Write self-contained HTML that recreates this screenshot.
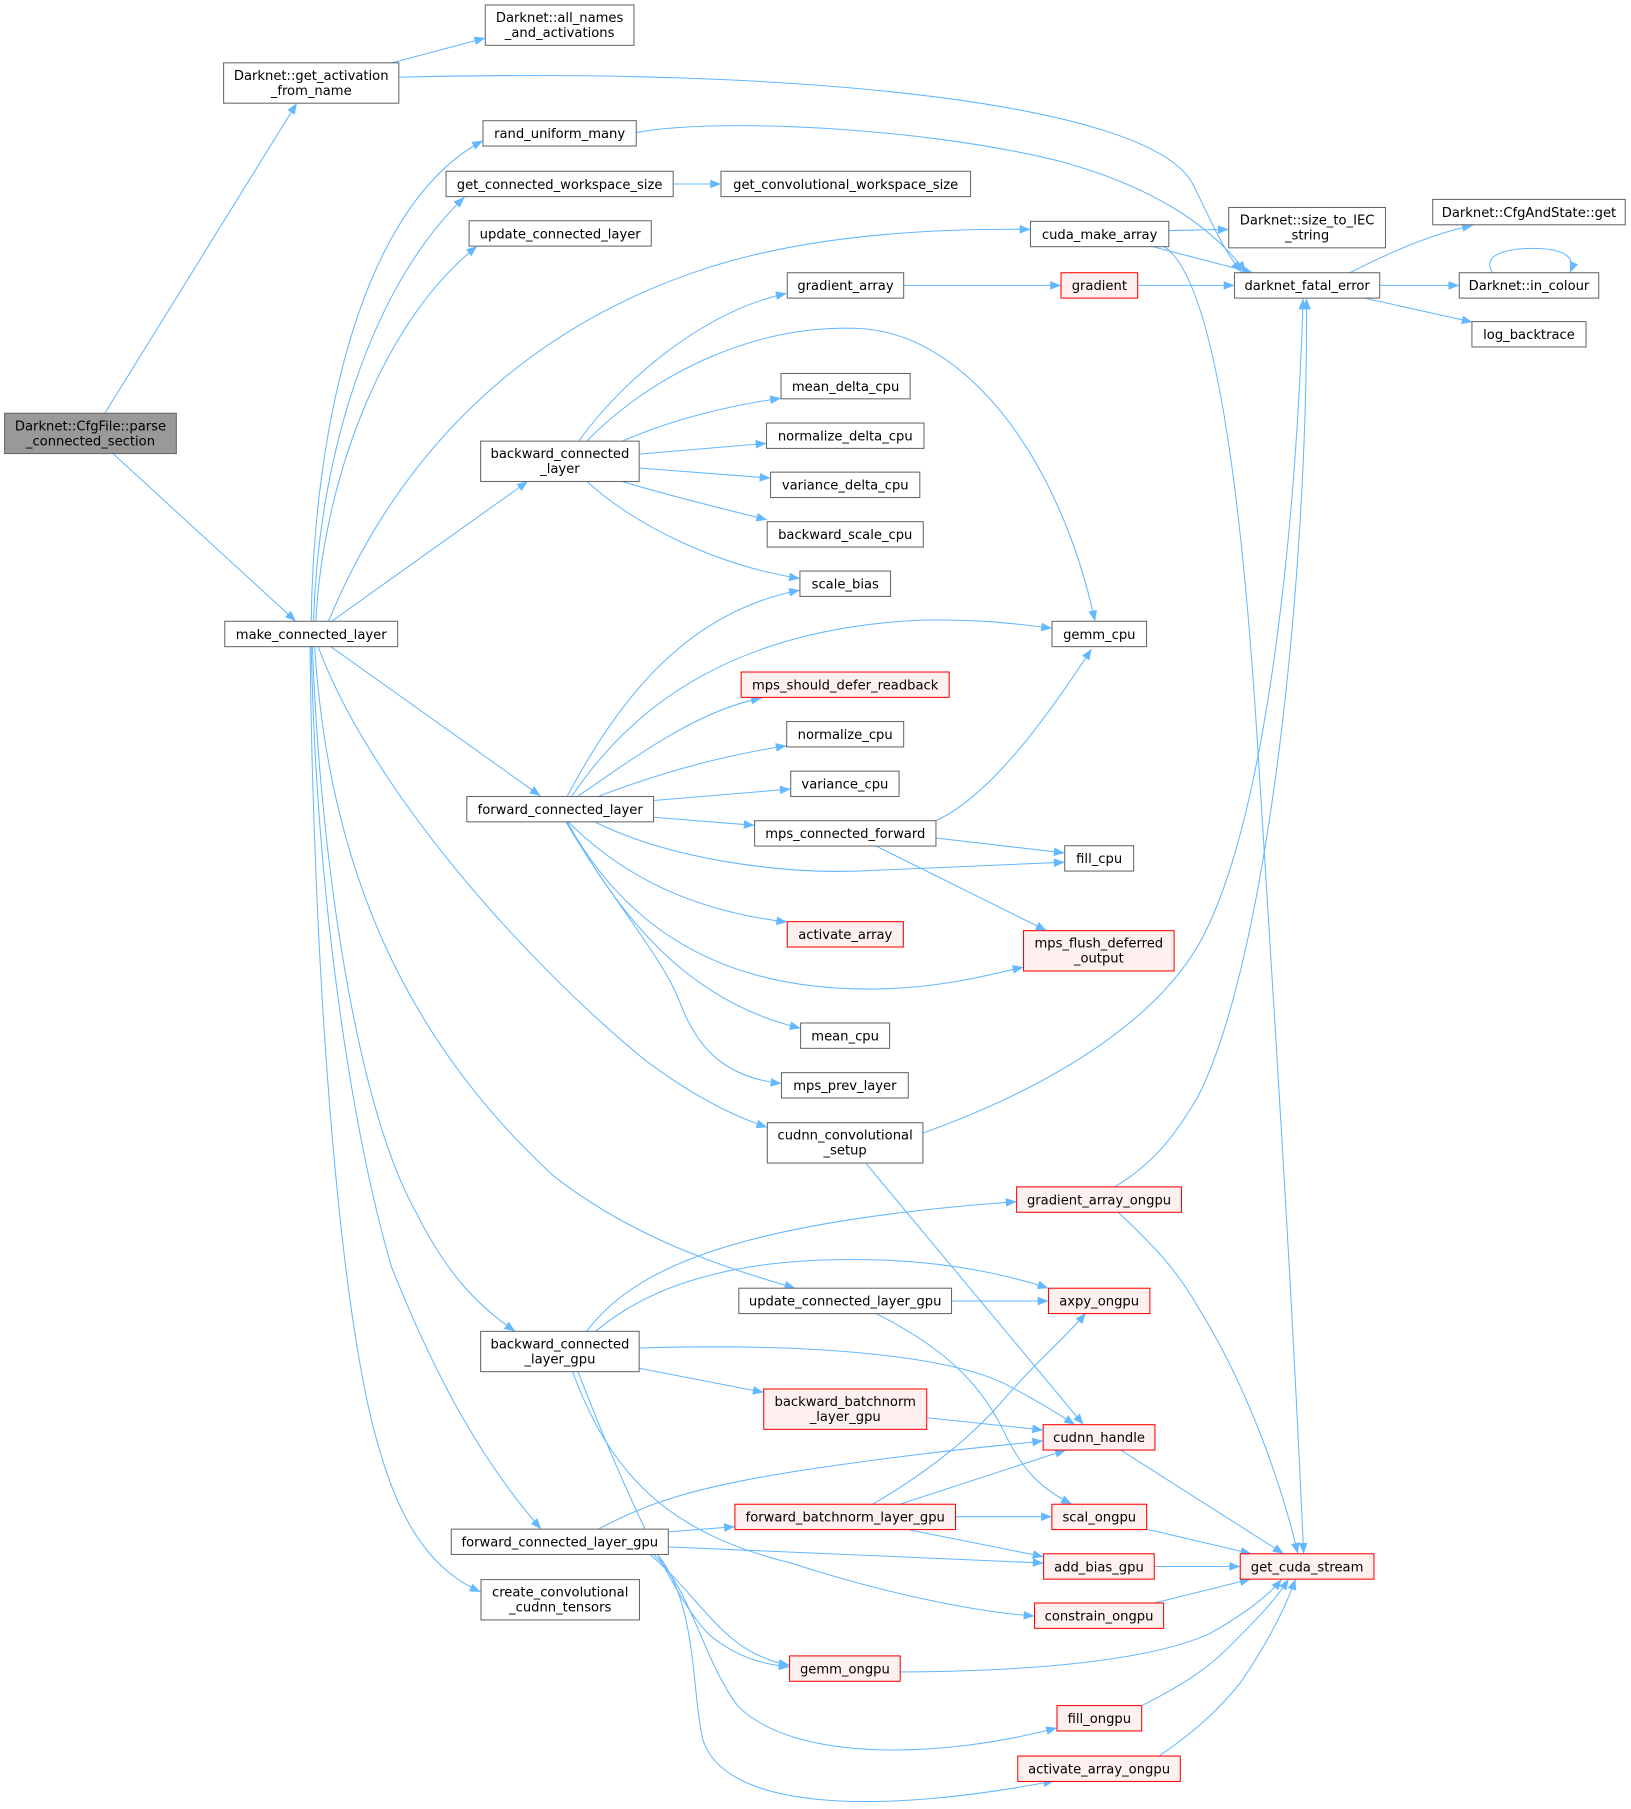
<!DOCTYPE html>
<html><head><meta charset="utf-8"><style>
html,body{margin:0;padding:0;background:#fff;}
svg{display:block;}
text{font-family:"DejaVu Sans","Liberation Sans",sans-serif;font-size:11.4px;fill:#000;text-anchor:middle;}
.n{fill:#fff;stroke:#666;stroke-width:0.9;}
.r{fill:#fff0f0;stroke:#ff0000;stroke-width:0.9;}
.g{fill:#999;stroke:#666;stroke-width:0.9;}
.e{fill:none;stroke:#63b8ff;stroke-width:0.9;marker-end:url(#a);}
</style></head><body>
<svg width="1631" height="1809" viewBox="0 0 1415 1569.4" xmlns="http://www.w3.org/2000/svg">
<defs><marker id="a" viewBox="0 0 10 8" refX="10" refY="4" markerWidth="10" markerHeight="7.5" markerUnits="userSpaceOnUse" orient="auto"><path d="M0,0 L10,4 L0,8 z" fill="#63b8ff"/></marker></defs>

<!-- edges -->
<path class="e" d="M91,358.5 L257.5,89.5"/>
<path class="e" d="M98,393.5 L256.7,539"/>
<path class="e" d="M340,54.5 L421,33"/>
<path class="e" d="M346,67 C700,58 1000,90 1035,160 C1050,190 1060,215 1077,236"/>
<path class="e" d="M552,115 C620,102 800,110 920,140 C1000,162 1050,195 1081,236"/>
<path class="e" d="M584,159.6 L625.5,159.6"/>
<path class="e" d="M270,539 C272,380 310,180 419,122"/>
<path class="e" d="M272,539 C276,400 320,250 403,171"/>
<path class="e" d="M274,539 C280,420 330,280 414,213.5"/>
<path class="e" d="M285,539 C330,430 420,300 600,237 C690,205 800,198 894,199"/>
<path class="e" d="M287.7,539 L458,417.5"/>
<path class="e" d="M287,561 L469,690.6"/>
<path class="e" d="M276,561 C320,680 450,830 560,920 C600,950 635,968 665.7,978"/>
<path class="e" d="M273,561 C285,750 350,900 480,1020 C550,1075 630,1100 690,1117.6"/>
<path class="e" d="M271,561 C278,750 310,960 360,1050 C385,1100 410,1130 447,1155"/>
<path class="e" d="M270,561 C275,800 310,1000 340,1100 C380,1200 420,1270 469.5,1326.6"/>
<path class="e" d="M269,561 C272,850 295,1150 330,1260 C350,1330 380,1365 417,1381"/>

<path class="e" d="M502,382.7 C540,330 610,270 682.5,254.5"/>
<path class="e" d="M509,382.7 C560,330 650,280 746,285 C840,290 920,400 950,539"/>
<path class="e" d="M540,382.7 C580,365 630,352 677.6,345.5"/>
<path class="e" d="M554.5,394 L665,384.6"/>
<path class="e" d="M554.5,406 L668.5,414.8"/>
<path class="e" d="M539,417.5 C580,430 630,442 665.6,451"/>
<path class="e" d="M509,417.5 C550,455 620,490 694,502"/>

<path class="e" d="M492,691 C540,600 600,530 694,512"/>
<path class="e" d="M496,691 C550,610 640,545 800,538 C850,537 880,541 912.7,545"/>
<path class="e" d="M501.6,690.6 C560,650 610,615 661,605.6"/>
<path class="e" d="M519.7,690.6 C580,668 630,655 682.5,647"/>
<path class="e" d="M567,694.5 L686,684.5"/>
<path class="e" d="M567,709 L654.7,716"/>
<path class="e" d="M516,713 C580,745 680,760 760,755 C830,752 880,750 923.7,748"/>
<path class="e" d="M493,713 C540,760 600,790 683,800"/>
<path class="e" d="M492,713 C540,800 620,860 760,858 C820,857 860,845 888,839"/>
<path class="e" d="M492,713 C540,800 600,870 694.6,892"/>
<path class="e" d="M491,713 C530,780 575,830 590,870 C605,910 630,935 678,940"/>

<path class="e" d="M812,712 C860,690 910,620 947,563"/>
<path class="e" d="M812,727 L923.7,740"/>
<path class="e" d="M760,734 L908,807.4"/>

<path class="e" d="M784,247.6 L920.5,247.6"/>
<path class="e" d="M987,247.6 L1071,247.6"/>
<path class="e" d="M1014,200 L1066,199"/>
<path class="e" d="M1000,214 L1087,236.6"/>
<path class="e" d="M1010,214 C1050,240 1075,400 1090,630 C1105,870 1120,1100 1131,1348"/>

<path class="e" d="M1171,236.6 C1200,222 1240,203 1278,195.5"/>
<path class="e" d="M1197,247.6 L1266,247.6"/>
<path class="e" d="M1184,258.6 L1277.6,279.5"/>
<path class="e" d="M1295,236.6 C1285,222 1305,215.5 1330,215.5 C1355,215.5 1368,222 1362,236.6"/>

<path class="e" d="M800.7,983 C920,940 1010,880 1045,810 C1100,700 1125,450 1130.5,259"/>
<path class="e" d="M967,1029.7 C1000,1010 1020,985 1040,950 C1100,830 1135,500 1133.5,259"/>
<path class="e" d="M970.5,1052 C1000,1080 1020,1100 1040,1135 C1080,1200 1110,1280 1126,1348"/>
<path class="e" d="M750.7,1008.6 L940,1236"/>

<path class="e" d="M825.5,1128.7 L909.6,1128.7"/>
<path class="e" d="M760.8,1140 C820,1170 850,1200 870,1240 C885,1272 900,1290 930,1305"/>
<path class="e" d="M509,1155 C550,1100 640,1060 882,1042.5"/>
<path class="e" d="M516.7,1155 C570,1110 650,1090 760,1093 C830,1095 880,1108 909.6,1117.6"/>
<path class="e" d="M554.5,1169.5 C700,1165 830,1175 880,1205 C905,1218 920,1228 932.6,1236"/>
<path class="e" d="M554.5,1187 L662.6,1208"/>
<path class="e" d="M804,1230 L905,1240.6"/>
<path class="e" d="M496.7,1190 C530,1280 580,1330 686,1356 C760,1380 840,1398 897.5,1402"/>
<path class="e" d="M501.5,1190 C540,1290 590,1400 620,1422 C640,1437 660,1444 685,1446"/>

<path class="e" d="M757,1305 C800,1280 840,1250 870,1215 C900,1180 925,1160 942,1139"/>
<path class="e" d="M780.6,1305 L924.8,1258"/>
<path class="e" d="M829,1315.8 L912.6,1315.8"/>
<path class="e" d="M789.5,1327.4 L905.4,1350.5"/>
<path class="e" d="M519,1326.6 C560,1305 600,1290 700,1275 C800,1260 860,1255 905,1250"/>
<path class="e" d="M579.5,1329 L637.6,1324.5"/>
<path class="e" d="M579.5,1342 L905.4,1356"/>
<path class="e" d="M564.6,1349 C600,1380 620,1415 650,1432 C665,1440 675,1443 685,1444.5"/>
<path class="e" d="M567.6,1349 C600,1380 610,1440 640,1480 C690,1530 820,1525 917,1499"/>
<path class="e" d="M570.6,1349 C605,1390 600,1470 610,1510 C630,1570 760,1575 914.6,1545"/>

<path class="e" d="M972.3,1258 L1113.7,1348"/>
<path class="e" d="M994.8,1326.6 L1085.7,1348"/>
<path class="e" d="M1001.5,1359 L1076,1359"/>
<path class="e" d="M1001.5,1390.7 L1085,1370"/>
<path class="e" d="M781,1450.5 C900,1450 1000,1440 1050,1417 C1080,1400 1100,1385 1112,1370"/>
<path class="e" d="M990.5,1479.7 C1030,1460 1050,1445 1065,1430 C1090,1405 1105,1390 1118,1370"/>
<path class="e" d="M1005.5,1523.5 C1040,1500 1060,1480 1076,1460 C1100,1425 1115,1395 1124,1370"/>

<!-- nodes -->
<rect class="g" x="4" y="358.5" width="149" height="35"/><text x="78.5" y="373.3">Darknet::CfgFile::parse</text><text x="78.5" y="386.3">_connected_section</text>
<rect class="n" x="194" y="54.5" width="152" height="35"/><text x="270" y="69.3">Darknet::get_activation</text><text x="270" y="82.3">_from_name</text>
<rect class="n" x="421" y="4.3" width="129" height="35"/><text x="485.5" y="19.1">Darknet::all_names</text><text x="485.5" y="32.1">_and_activations</text>
<rect class="n" x="419" y="104.7" width="133" height="22"/><text x="485.5" y="119.9">rand_uniform_many</text>
<rect class="n" x="387" y="148.6" width="197" height="22"/><text x="485.5" y="163.8">get_connected_workspace_size</text>
<rect class="n" x="407" y="191.5" width="158" height="22"/><text x="486" y="206.7">update_connected_layer</text>
<rect class="n" x="625.5" y="148.6" width="216.5" height="22"/><text x="733.7" y="163.8">get_convolutional_workspace_size</text>
<rect class="n" x="894" y="192" width="120" height="22"/><text x="954" y="207.2">cuda_make_array</text>
<rect class="n" x="1066" y="180" width="136" height="35"/><text x="1134" y="194.8">Darknet::size_to_IEC</text><text x="1134" y="207.8">_string</text>
<rect class="n" x="1243" y="173" width="167" height="22"/><text x="1326.5" y="188.2">Darknet::CfgAndState::get</text>
<rect class="n" x="1071" y="236.6" width="126" height="22"/><text x="1134" y="251.8">darknet_fatal_error</text>
<rect class="n" x="1266" y="236.6" width="121" height="22"/><text x="1326.5" y="251.8">Darknet::in_colour</text>
<rect class="n" x="1277" y="279" width="99" height="22"/><text x="1326.5" y="294.2">log_backtrace</text>
<rect class="n" x="683" y="236.6" width="101" height="22"/><text x="733.5" y="251.8">gradient_array</text>
<rect class="r" x="920.5" y="236.6" width="66.5" height="22"/><text x="953.75" y="251.8">gradient</text>
<rect class="n" x="677.6" y="324" width="112" height="22"/><text x="733.6" y="339.2">mean_delta_cpu</text>
<rect class="n" x="665" y="367" width="136.6" height="22"/><text x="733.3" y="382.2">normalize_delta_cpu</text>
<rect class="n" x="668.5" y="409.6" width="129.5" height="22"/><text x="733.3" y="424.8">variance_delta_cpu</text>
<rect class="n" x="665.6" y="452.6" width="135.4" height="22"/><text x="733.3" y="467.8">backward_scale_cpu</text>
<rect class="n" x="694" y="495.4" width="78.6" height="22"/><text x="733.3" y="510.6">scale_bias</text>
<rect class="n" x="417" y="382.7" width="137.5" height="35"/><text x="485.75" y="397.5">backward_connected</text><text x="485.75" y="410.5">_layer</text>
<rect class="n" x="195" y="539" width="150" height="22"/><text x="270" y="554.2">make_connected_layer</text>
<rect class="n" x="912.7" y="539" width="82" height="22"/><text x="953.7" y="554.2">gemm_cpu</text>
<rect class="r" x="643" y="583" width="180.5" height="22"/><text x="733.25" y="598.2">mps_should_defer_readback</text>
<rect class="n" x="682.5" y="626" width="101.5" height="22"/><text x="733.25" y="641.2">normalize_cpu</text>
<rect class="n" x="686" y="669" width="94" height="22"/><text x="733" y="684.2">variance_cpu</text>
<rect class="n" x="405" y="691" width="162" height="22"/><text x="486" y="706.2">forward_connected_layer</text>
<rect class="n" x="654.7" y="712" width="157.3" height="22"/><text x="733.35" y="727.2">mps_connected_forward</text>
<rect class="n" x="923.7" y="733.7" width="59.8" height="22"/><text x="953.6" y="748.9">fill_cpu</text>
<rect class="r" x="683" y="799.6" width="100.7" height="22"/><text x="733.35" y="814.8">activate_array</text>
<rect class="r" x="888" y="807.4" width="130.6" height="35"/><text x="953.3" y="822.2">mps_flush_deferred</text><text x="953.3" y="835.2">_output</text>
<rect class="n" x="694.6" y="887.5" width="77.2" height="22"/><text x="733.2" y="902.7">mean_cpu</text>
<rect class="n" x="678" y="930.6" width="110" height="22"/><text x="733" y="945.8">mps_prev_layer</text>
<rect class="n" x="665.7" y="974" width="135" height="35"/><text x="733.2" y="988.8">cudnn_convolutional</text><text x="733.2" y="1001.8">_setup</text>
<rect class="r" x="882" y="1029.7" width="143" height="22"/><text x="953.5" y="1044.9">gradient_array_ongpu</text>
<rect class="n" x="641" y="1117.6" width="184.5" height="22"/><text x="733.25" y="1132.8">update_connected_layer_gpu</text>
<rect class="r" x="909.6" y="1117.6" width="88" height="22"/><text x="953.6" y="1132.8">axpy_ongpu</text>
<rect class="n" x="417" y="1155" width="137.5" height="35"/><text x="485.75" y="1169.8">backward_connected</text><text x="485.75" y="1182.8">_layer_gpu</text>
<rect class="r" x="662.6" y="1205" width="141.4" height="35"/><text x="733.3" y="1219.8">backward_batchnorm</text><text x="733.3" y="1232.8">_layer_gpu</text>
<rect class="r" x="905" y="1236" width="97" height="22"/><text x="953.5" y="1251.2">cudnn_handle</text>
<rect class="r" x="637.6" y="1305" width="191.4" height="22"/><text x="733.3" y="1320.2">forward_batchnorm_layer_gpu</text>
<rect class="r" x="912.6" y="1305" width="82.2" height="22"/><text x="953.7" y="1320.2">scal_ongpu</text>
<rect class="n" x="391.5" y="1326.6" width="188.3" height="22"/><text x="485.65" y="1341.8">forward_connected_layer_gpu</text>
<rect class="r" x="905.4" y="1348" width="96" height="22"/><text x="953.4" y="1363.2">add_bias_gpu</text>
<rect class="r" x="1076" y="1348" width="116" height="22"/><text x="1134" y="1363.2">get_cuda_stream</text>
<rect class="n" x="417.3" y="1370.4" width="137.5" height="35"/><text x="486" y="1385.2">create_convolutional</text><text x="486" y="1398.2">_cudnn_tensors</text>
<rect class="r" x="897.5" y="1390.7" width="112" height="22"/><text x="953.5" y="1405.9">constrain_ongpu</text>
<rect class="r" x="685" y="1436.6" width="96" height="22"/><text x="733" y="1451.8">gemm_ongpu</text>
<rect class="r" x="917" y="1479.7" width="73.5" height="22"/><text x="953.75" y="1494.9">fill_ongpu</text>
<rect class="r" x="883" y="1523.5" width="141" height="22"/><text x="953.5" y="1538.7">activate_array_ongpu</text>
</svg>
</body></html>
